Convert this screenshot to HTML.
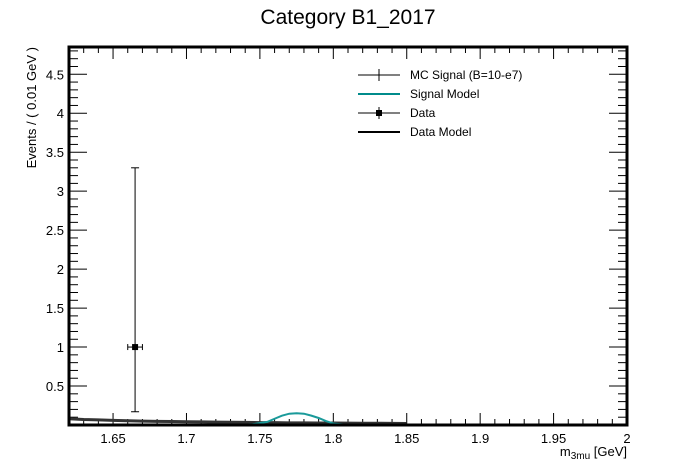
<!DOCTYPE html>
<html><head><meta charset="utf-8"><style>
body{margin:0;background:#fff;}
svg{display:block;font-family:"Liberation Sans",Helvetica,sans-serif;}
</style></head><body>
<svg id="c" width="696" height="472">
<text x="348" y="24" font-size="21" text-anchor="middle">Category B1_2017</text>
<g id="plot"></g>
<text x="627" y="456" font-size="13" text-anchor="end">m<tspan font-size="10" dy="3">3mu</tspan><tspan dy="-3"> [GeV]</tspan></text>
<text transform="translate(36,47) rotate(-90)" font-size="13" text-anchor="end">Events / ( 0.01 GeV )</text>
<g font-size="12">
 <g><line x1="358" x2="400" y1="75" y2="75" stroke="#000"/><line x1="379" x2="379" y1="69" y2="81" stroke="#000"/><text x="410" y="79">MC Signal (B=10-e7)</text></g>
 <g><line x1="358" x2="400" y1="94" y2="94" stroke="#008b8b" stroke-width="2"/><text x="410" y="98">Signal Model</text></g>
 <g><line x1="358" x2="400" y1="113" y2="113" stroke="#000"/><line x1="379" x2="379" y1="107" y2="119" stroke="#000"/><rect x="376" y="110" width="6" height="6"/><text x="410" y="117">Data</text></g>
 <g><line x1="358" x2="400" y1="132" y2="132" stroke="#000" stroke-width="2"/><text x="410" y="136">Data Model</text></g>
</g>
</svg>
<script>
const xTicks=[1.65,1.7,1.75,1.8,1.85,1.9,1.95,2];
const xTickLabels=["1.65","1.7","1.75","1.8","1.85","1.9","1.95","2"];
const yTicks=[0.5,1,1.5,2,2.5,3,3.5,4,4.5];
const yTickLabels=["0.5","1","1.5","2","2.5","3","3.5","4","4.5"];
const dataX=[1.665];
const dataY=[1];
const dataErrLo=[0.83];
const dataErrHi=[2.3];
const dataModelX=[1.62,1.63,1.64,1.65,1.66,1.67,1.68,1.69,1.70,1.71,1.72,1.73,1.74,1.75,1.76,1.77,1.78,1.79,1.80,1.81,1.82,1.83,1.84,1.85];
const dataModelY=[0.08,0.07,0.065,0.06,0.055,0.05,0.047,0.045,0.042,0.04,0.037,0.035,0.033,0.031,0.03,0.028,0.027,0.026,0.025,0.024,0.023,0.022,0.021,0.02];
const sigX=[1.735,1.745,1.755,1.76,1.765,1.77,1.775,1.78,1.785,1.79,1.795,1.8,1.81];
const sigY=[0.0,0.01,0.04,0.08,0.12,0.145,0.15,0.145,0.12,0.09,0.05,0.02,0.0];
const X0=69,X1=627,Y0=425,Y1=47,xmin=1.62,xmax=2.0,ymin=0,ymax=4.85;
const sx=v=>X0+(v-xmin)/(xmax-xmin)*(X1-X0);
const sy=v=>Y0-(v-ymin)/(ymax-ymin)*(Y0-Y1);
const NS="http://www.w3.org/2000/svg";
const g=document.getElementById('plot');
function mk(t,a,p){const e=document.createElementNS(NS,t);for(const k in a)e.setAttribute(k,a[k]);(p||g).appendChild(e);return e;}
// ticks
for(let i=0;i<=38;i++){const v=xmin+i*0.01;const x=sx(v);const major=Math.abs((v*100)%5)<0.01||Math.abs((v*100)%5-5)<0.01;const l=major?12:6;
 mk('line',{x1:x,x2:x,y1:Y0,y2:Y0-l,stroke:'#000'});mk('line',{x1:x,x2:x,y1:Y1,y2:Y1+l,stroke:'#000'});}
for(let i=1;i<=48;i++){const v=i*0.1;const y=sy(v);const major=i%5==0;const l=major?18:9;
 mk('line',{x1:X0,x2:X0+l,y1:y,y2:y,stroke:'#000'});mk('line',{x1:X1,x2:X1-l,y1:y,y2:y,stroke:'#000'});}
xTicks.forEach((v,i)=>{const t=mk('text',{x:sx(v),y:443,'font-size':13,'text-anchor':'middle'});t.textContent=xTickLabels[i];

});
yTicks.forEach((v,i)=>{const t=mk('text',{x:64,y:sy(v)+5,'font-size':13,'text-anchor':'end'});t.textContent=yTickLabels[i];

});
// data model
const dm=mk('polyline',{points:dataModelX.map((x,i)=>sx(x)+','+sy(dataModelY[i])).join(' '),fill:'none',stroke:'#333',"stroke-width":3});


// signal model
const sm=mk('polyline',{points:sigX.map((x,i)=>sx(x)+','+sy(sigY[i])).join(' '),fill:'none',stroke:'#1a9a9a',"stroke-width":2});


// data points
dataX.forEach((x,i)=>{const px=sx(x),py=sy(dataY[i]);
 const e=mk('g',{});
 
 
 mk('line',{x1:px,x2:px,y1:sy(dataY[i]+dataErrHi[i]),y2:sy(dataY[i]-dataErrLo[i]),stroke:'#000'},e);
 mk('line',{x1:px-4,x2:px+4,y1:sy(dataY[i]+dataErrHi[i]),y2:sy(dataY[i]+dataErrHi[i]),stroke:'#000'},e);
 mk('line',{x1:px-4,x2:px+4,y1:sy(dataY[i]-dataErrLo[i]),y2:sy(dataY[i]-dataErrLo[i]),stroke:'#000'},e);
 mk('line',{x1:sx(x-0.005),x2:sx(x+0.005),y1:py,y2:py,stroke:'#000'},e);
 mk('line',{x1:sx(x-0.005),x2:sx(x-0.005),y1:py-3,y2:py+3,stroke:'#000'},e);
 mk('line',{x1:sx(x+0.005),x2:sx(x+0.005),y1:py-3,y2:py+3,stroke:'#000'},e);
 mk('rect',{x:px-3,y:py-3,width:6,height:6},e);});
const fr=mk('rect',{x:X0,y:Y1,width:X1-X0,height:Y0-Y1,fill:'none',stroke:'#000','stroke-width':3});


</script>
</body></html>
